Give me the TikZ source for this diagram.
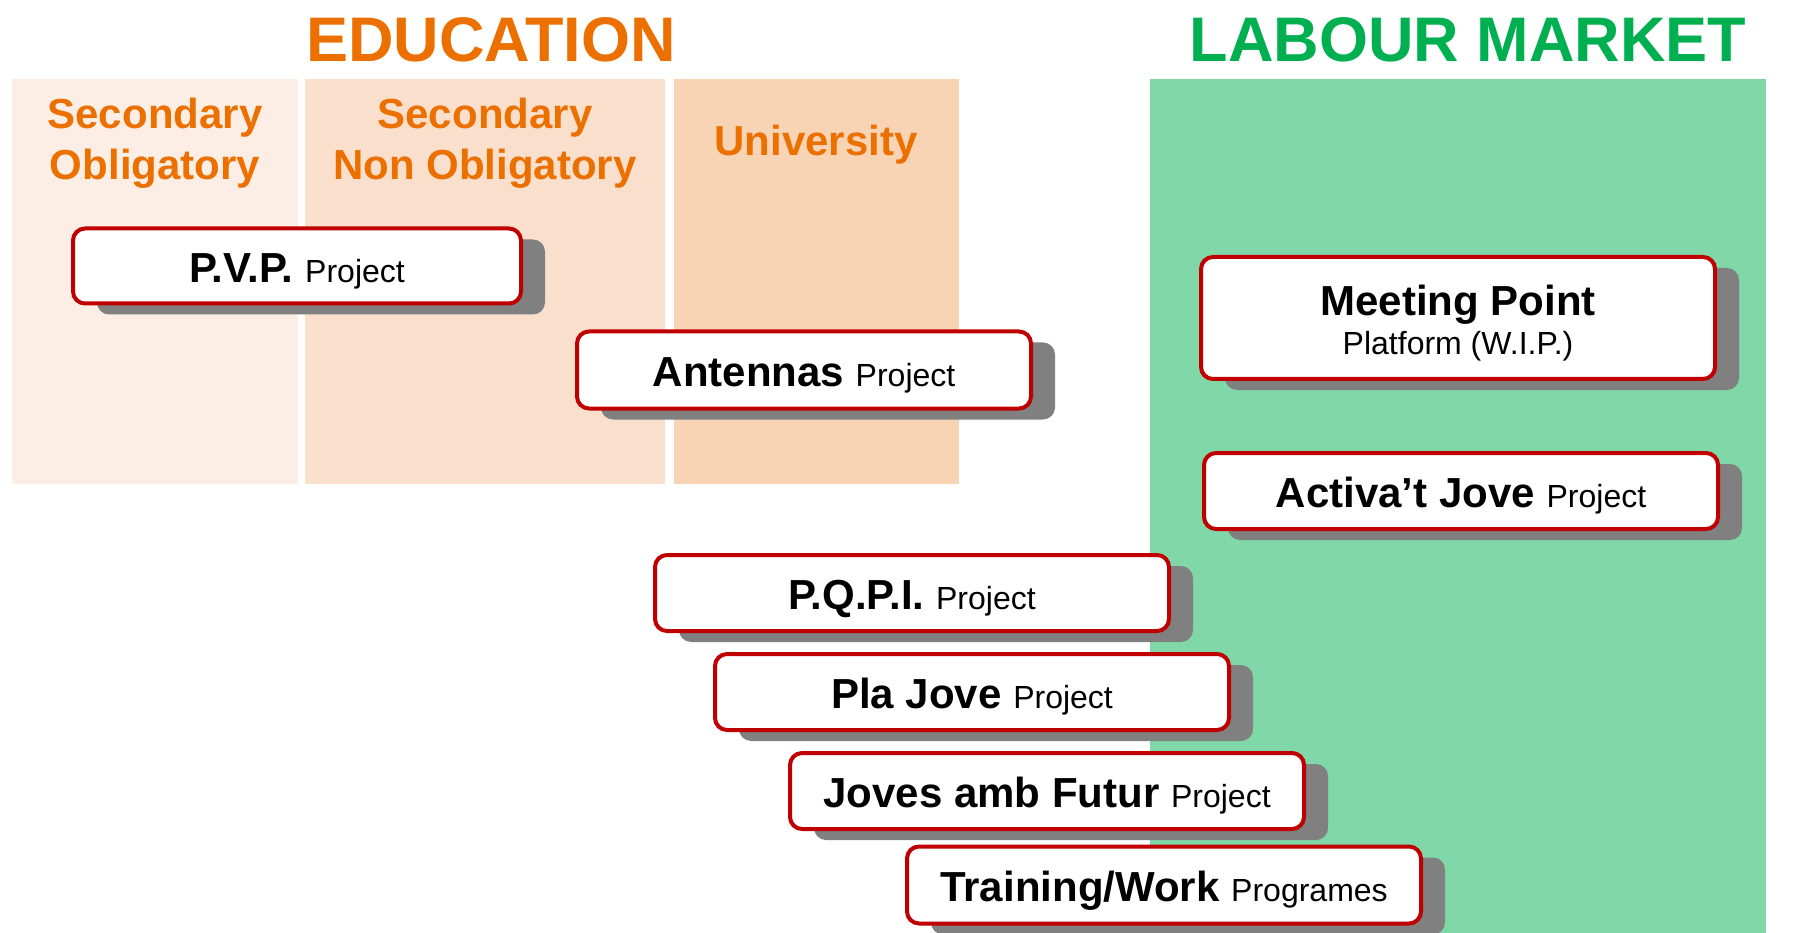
\documentclass[tikz,border=0pt]{standalone}
\usepackage{fontspec}
\setmainfont{Liberation Sans}
\usetikzlibrary{shadows}

\definecolor{eduorange}{RGB}{236,112,0}
\definecolor{labgreen}{RGB}{0,176,80}
\definecolor{colone}{RGB}{252,238,228}
\definecolor{coltwo}{RGB}{250,224,204}
\definecolor{colthree}{RGB}{248,212,180}
\definecolor{labfill}{RGB}{128,216,168}
\definecolor{boxred}{RGB}{192,0,0}
\definecolor{shadowgray}{RGB}{128,128,128}

\newcommand{\projlabel}[2]{{\bfseries #1} {\fontsize{32}{38}\selectfont #2}}

\begin{document}
\begin{tikzpicture}[x=1pt,y=1pt,yscale=-1,xscale=1,
  title/.style={font=\fontsize{63}{70}\selectfont\bfseries, anchor=base, inner sep=0pt},
  colhead/.style={font=\fontsize{42}{51}\selectfont\bfseries, text=eduorange, align=center, anchor=base, inner sep=0pt},
  project/.style={draw=boxred, line width=4pt, fill=white, rounded corners=12pt,
    minimum width=514pt, minimum height=76pt, inner sep=0pt, align=center,
    font=\fontsize{42}{50}\selectfont, text height=33pt, text depth=0pt,
    drop shadow={shadow xshift=24pt, shadow yshift=-11pt, fill=shadowgray, opacity=1}}]
\useasboundingbox (0,0) rectangle (1816,933);

%Shape: Rectangle
\fill [colone] (12,79) rectangle (298,484);
%Shape: Rectangle
\fill [coltwo] (305,79) rectangle (665,484);
%Shape: Rectangle
\fill [colthree] (674,79) rectangle (959,484);
%Shape: Rectangle
\fill [labfill] (1150,79) rectangle (1766,933);

% Text Node
\node [title, text=eduorange] (edu) at (491,62) {EDUCATION};
% Text Node
\node [title, text=labgreen] (labour) at (1468,62) {LABOUR MARKET};

% Text Node
\node [colhead] (secobl) at (155,180) {Secondary\\Obligatory};
% Text Node
\node [colhead] (secnon) at (485,180) {Secondary\\Non Obligatory};
% Text Node
\node [colhead] (univ) at (816,156) {University};

%Shape: Rounded Rect
\node [project, minimum width=448pt, minimum height=75pt] (pvp) at (297,266) {\projlabel{P.V.P.}{Project}};
%Shape: Rounded Rect
\node [project, minimum width=454pt, minimum height=77pt] (antennas) at (804,370) {\projlabel{Antennas}{Project}};
%Shape: Rounded Rect
\node [project, minimum height=122pt, text height=74pt] (meeting) at (1458,318) {{\bfseries Meeting Point}\\[-11pt]{\fontsize{32}{38}\selectfont Platform (W.I.P.)}};
%Shape: Rounded Rect
\node [project] (activa) at (1461,491) {\projlabel{Activa’t Jove}{Project}};
%Shape: Rounded Rect
\node [project] (pqpi) at (912,593) {\projlabel{P.Q.P.I.}{Project}};
%Shape: Rounded Rect
\node [project] (plajove) at (972,692) {\projlabel{Pla Jove}{Project}};
%Shape: Rounded Rect
\node [project] (joves) at (1047,791) {\projlabel{Joves amb Futur}{Project}};
%Shape: Rounded Rect
\node [project, minimum height=77pt] (training) at (1164,885) {\projlabel{Training/Work}{Programes}};

\end{tikzpicture}
\end{document}
